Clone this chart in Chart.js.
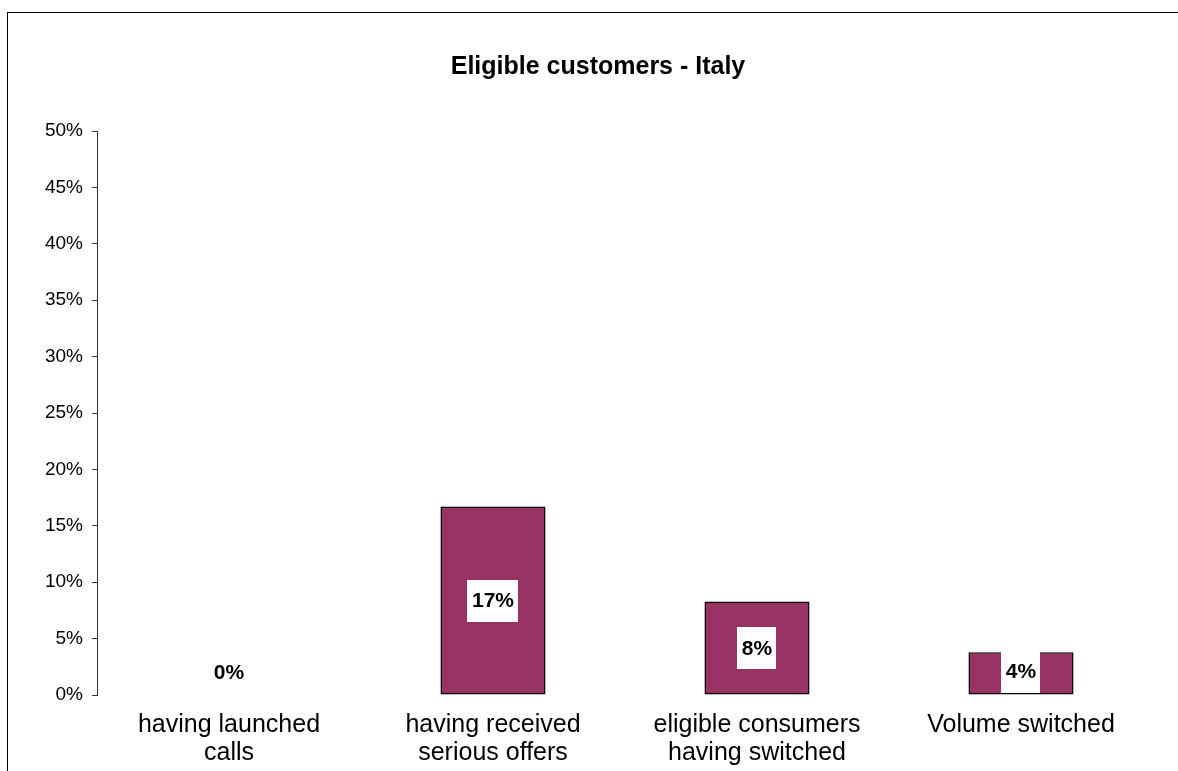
<!DOCTYPE html>
<html>
<head>
<meta charset="utf-8">
<title>Eligible customers - Italy</title>
<script src="https://cdn.jsdelivr.net/npm/chart.js@4/dist/chart.umd.min.js"></script>
<style>
  html, body { margin: 0; padding: 0; background: #fff; }
  #wrap { position: relative; width: 1178px; height: 771px; overflow: hidden; }
  #frame {
    position: absolute; left: 7px; top: 12px; width: 1200px; height: 800px;
    border-left: 1.5px solid #000; border-top: 1.5px solid #000;
    pointer-events: none;
  }
  canvas { position: absolute; left: 0; top: 0; }
</style>
</head>
<body>
<div id="wrap">
  <canvas id="chart" width="1178" height="771"></canvas>
  <div id="frame"></div>
</div>
<script>
// Categories (multi-line axis labels)
const categories = [
  ['having launched', 'calls'],
  ['having received', 'serious offers'],
  ['eligible consumers', 'having switched'],
  ['Volume switched']
];
// Share of eligible customers per category
const shares = [0, 0.167, 0.083, 0.038];
// Value axis range and step
const axisMin = 0;
const axisMax = 0.5;
const axisStep = 0.05;
const chartTitle = 'Eligible customers - Italy';

const FONT = '"Liberation Sans", Arial, Helvetica, sans-serif';
const pct = v => Math.round(v * 100) + '%';

// Chart title, centred across the framed chart box
const titleText = {
  id: 'titleText',
  afterDraw(chart) {
    const ctx = chart.ctx;
    ctx.save();
    ctx.font = 'bold 25px ' + FONT;
    ctx.fillStyle = '#000';
    ctx.textAlign = 'center';
    ctx.textBaseline = 'middle';
    ctx.fillText(chartTitle, 598, 67);
    ctx.restore();
  }
};

// Value labels: bold text on a white box, centred in each bar
const valueLabels = {
  id: 'valueLabels',
  afterDatasetsDraw(chart) {
    const ctx = chart.ctx;
    const meta = chart.getDatasetMeta(0);
    const values = chart.data.datasets[0].data;
    ctx.save();
    ctx.font = 'bold 21px ' + FONT;
    ctx.textAlign = 'center';
    ctx.textBaseline = 'middle';
    const boxH = 42;
    meta.data.forEach((bar, i) => {
      const text = pct(values[i]);
      const w = ctx.measureText(text).width + 9;
      let cy = (bar.y + bar.base) / 2;
      cy = Math.min(cy, bar.base - 2 - boxH / 2);
      ctx.fillStyle = '#ffffff';
      ctx.fillRect(Math.round(bar.x - w / 2), Math.round(cy - boxH / 2), Math.round(w), boxH);
      ctx.fillStyle = '#000000';
      ctx.fillText(text, bar.x, cy + 1);
    });
    ctx.restore();
  }
};

new Chart(document.getElementById('chart'), {
  type: 'bar',
  data: {
    labels: categories,
    datasets: [{
      data: shares,
      backgroundColor: '#993366',
      borderColor: '#000000',
      borderWidth: 1.5,
      borderSkipped: false,
      categoryPercentage: 1,
      barPercentage: 0.398
    }]
  },
  options: {
    responsive: false,
    devicePixelRatio: 1,
    animation: false,
    layout: { padding: { left: 0, right: 25, top: 131, bottom: 0 } },
    plugins: {
      legend: { display: false },
      tooltip: { enabled: false },
      title: { display: false }
    },
    scales: {
      x: {
        grid: { display: false, drawTicks: false },
        border: { display: false },
        ticks: {
          color: '#000',
          font: { family: FONT, size: 25, lineHeight: 1.12 },
          padding: 16,
          maxRotation: 0,
          autoSkip: false
        },
        afterFit(scale) { scale.height = 76; }
      },
      y: {
        min: axisMin,
        max: axisMax,
        grid: { drawOnChartArea: false, drawTicks: true, tickLength: 5, color: '#333' },
        border: { display: true, color: '#333', width: 1 },
        ticks: {
          stepSize: axisStep,
          color: '#000',
          padding: 9,
          font: { family: FONT, size: 19 },
          callback: v => pct(v)
        },
        afterFit(scale) { scale.width = 97; }
      }
    }
  },
  plugins: [valueLabels, titleText]
});
</script>
</body>
</html>
